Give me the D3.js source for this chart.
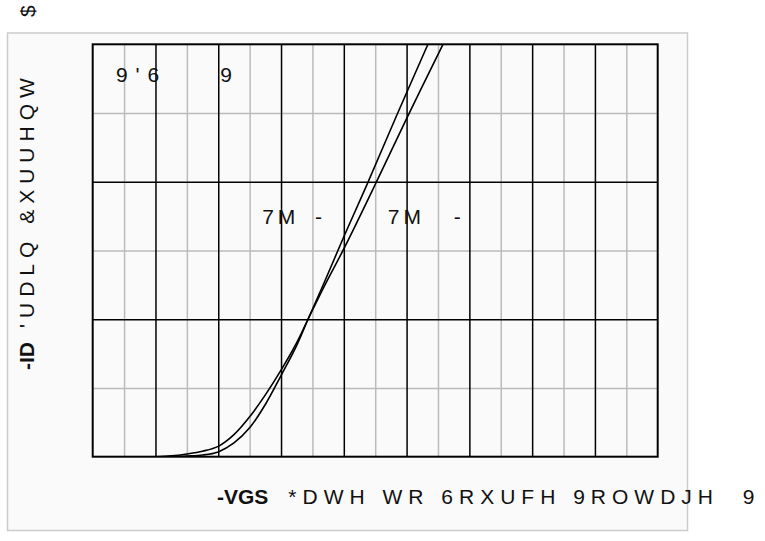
<!doctype html>
<html lang="en">
    <head>
        <meta charset="utf-8">
        <title>Transfer characteristics</title>
        <script type="text/javascript" src="https://cdn.jsdelivr.net/npm/d3@7"></script>
        <style>
            body { margin: 0; background: #fff; }
            svg text { font-family: "Liberation Sans", Arial, sans-serif; }
        </style>
    </head>
    <body>
        <script type="text/javascript">
            // grid ticks (VGS along x, ID along y)
            var xMajor = [1, 2, 3, 4, 5, 6, 7, 8];
            var xMinor = [0.5, 1.5, 2.5, 3.5, 4.5, 5.5, 6.5, 7.5, 8.5];
            var yMajor = [1, 2];
            var yMinor = [0.5, 1.5, 2.5];

            // curve: the one that is higher at low VGS
            var curveA = [
                [1.0, 0], [1.25, 0.006], [1.5, 0.02], [1.75, 0.04], [2.0, 0.075],
                [2.25, 0.16], [2.5, 0.29], [2.75, 0.45], [3.0, 0.63], [3.25, 0.83],
                [3.43, 1.0], [3.7, 1.25], [4.02, 1.53], [4.5, 1.98], [5.0, 2.46], [5.58, 3.0]
            ];
            // and the one that is steeper at the top
            var curveB = [
                [1.2, 0], [1.5, 0.005], [1.75, 0.012], [2.0, 0.035], [2.25, 0.1],
                [2.5, 0.21], [2.75, 0.38], [3.0, 0.59], [3.25, 0.81], [3.43, 1.0],
                [3.7, 1.28], [4.0, 1.6], [4.36, 1.97], [4.84, 2.48], [5.34, 3.0]
            ];

            // in-plot labels, as they appear in the picture
            var notes = [
                {text: "9'6", x: 0.37, y: 2.725, ls: 8},
                {text: "9", x: 2.03, y: 2.725, ls: 0},
                {text: "7M", x: 2.7, y: 1.69, ls: 4},
                {text: "-", x: 3.54, y: 1.69, ls: 0},
                {text: "7M", x: 4.7, y: 1.69, ls: 4},
                {text: "-", x: 5.75, y: 1.69, ls: 0}
            ];

            var svgW = 765;
            var svgH = 541;
            var plot = {left: 92.7, right: 657.7, top: 44.3, bottom: 456.7};

            var svg = d3.select("body")
                        .append("svg")
                        .attr("width", svgW)
                        .attr("height", svgH);

            // light panel behind the chart
            svg.append("rect")
               .attr("x", 7.5)
               .attr("y", 33)
               .attr("width", 680)
               .attr("height", 497.5)
               .attr("fill", "#fafafa")
               .attr("stroke", "#cccccc")
               .attr("stroke-width", 1.5);

            var xScale = d3.scaleLinear()
                           .domain([0, 9])
                           .range([plot.left, plot.right]);

            var yScale = d3.scaleLinear()
                           .domain([0, 3])
                           .range([plot.bottom, plot.top]);

            var plotH = plot.bottom - plot.top;
            var plotW = plot.right - plot.left;

            function grid(g, color) {
                g.select(".domain").remove();
                g.selectAll(".tick line")
                 .attr("stroke", color)
                 .attr("stroke-width", 1.5);
                g.selectAll(".tick text").remove();
            }

            svg.append("g")
               .attr("transform", "translate(0," + plot.bottom + ")")
               .call(d3.axisBottom(xScale).tickValues(xMinor).tickSize(-plotH).tickFormat(""))
               .call(grid, "#bbbbbb");

            svg.append("g")
               .attr("transform", "translate(" + plot.left + ",0)")
               .call(d3.axisLeft(yScale).tickValues(yMinor).tickSize(-plotW).tickFormat(""))
               .call(grid, "#bbbbbb");

            svg.append("g")
               .attr("transform", "translate(0," + plot.bottom + ")")
               .call(d3.axisBottom(xScale).tickValues(xMajor).tickSize(-plotH).tickFormat(""))
               .call(grid, "#000000");

            svg.append("g")
               .attr("transform", "translate(" + plot.left + ",0)")
               .call(d3.axisLeft(yScale).tickValues(yMajor).tickSize(-plotW).tickFormat(""))
               .call(grid, "#000000");

            svg.append("rect")
               .attr("x", plot.left)
               .attr("y", plot.top)
               .attr("width", plotW)
               .attr("height", plotH)
               .attr("fill", "none")
               .attr("stroke", "#000")
               .attr("stroke-width", 2);

            var line = d3.line()
                         .x(d => xScale(d[0]))
                         .y(d => yScale(d[1]))
                         .curve(d3.curveCatmullRom.alpha(0.5));

            svg.append("defs")
               .append("clipPath")
               .attr("id", "clip")
               .append("rect")
               .attr("x", plot.left)
               .attr("y", plot.top)
               .attr("width", plotW)
               .attr("height", plotH);

            svg.selectAll("path.curve")
               .data([curveA, curveB])
               .enter()
               .append("path")
               .attr("class", "curve")
               .attr("d", line)
               .attr("clip-path", "url(#clip)")
               .attr("fill", "none")
               .attr("stroke", "#000")
               .attr("stroke-width", 1.6);

            svg.selectAll("text.note")
               .data(notes)
               .enter()
               .append("text")
               .attr("class", "note")
               .text(d => d.text)
               .attr("x", d => xScale(d.x))
               .attr("y", d => yScale(d.y))
               .attr("font-size", "21px")
               .attr("letter-spacing", d => d.ls + "px")
               .attr("fill", "#111");

            // x axis title
            var xt = svg.append("text")
                        .attr("x", 217)
                        .attr("y", 504)
                        .attr("font-size", "21px")
                        .attr("fill", "#111");
            xt.append("tspan")
              .attr("font-weight", "bold")
              .text("-VGS");
            xt.append("tspan")
              .attr("dx", 20)
              .attr("letter-spacing", "6px")
              .style("white-space", "pre")
              .text("*DWH WR 6RXUFH 9ROWDJH  9");

            // y axis title
            var yt = svg.append("text")
                        .attr("transform", "translate(34,370) rotate(-90)")
                        .attr("font-size", "21px")
                        .attr("fill", "#111");
            yt.append("tspan")
              .attr("font-weight", "bold")
              .text("-ID");
            yt.append("tspan")
              .attr("dx", 14)
              .attr("letter-spacing", "6px")
              .style("white-space", "pre")
              .text("'UDLQ &XUUHQW");

            svg.append("text")
               .attr("transform", "translate(35,17) rotate(-90)")
               .attr("font-size", "21px")
               .attr("fill", "#111")
               .text("$");
        </script>
    </body>
</html>
